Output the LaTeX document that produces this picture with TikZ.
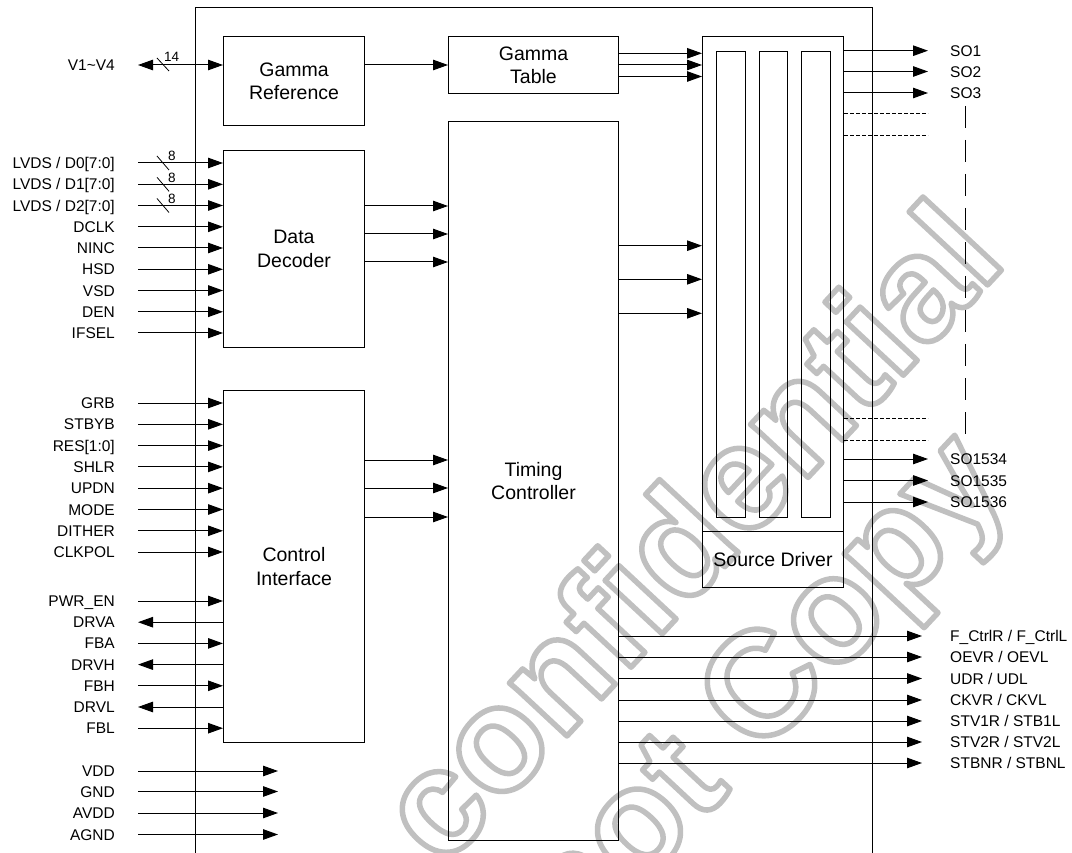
\documentclass[tikz,border=0pt]{standalone}
\usepackage{fontspec}
\setmainfont{Liberation Sans}
\usetikzlibrary{arrows.meta}
\definecolor{wmgray}{RGB}{192,192,192}
\newcommand{\blkfont}{\fontsize{19.5}{23.4}\selectfont}
\newcommand{\pinfont}{\fontsize{15.5}{18}\selectfont}
\newcommand{\busfont}{\fontsize{13.5}{15}\selectfont}
\newcommand{\wmfont}{\bfseries\fontsize{148}{150}\selectfont}
\newcommand{\wmon}{\special{pdf:literal direct 1 Tr 5.5 w 1 j 0.753 0.753 0.753 RG}}
\begin{document}
\begin{tikzpicture}[x=1pt,y=-1pt,
  ln/.style={line width=1pt},
  blk/.style={draw, line width=1pt, inner sep=0pt, align=center, font=\blkfont, anchor=north west},
  colbox/.style={draw, line width=1pt, inner sep=0pt, anchor=north west},
  lab/.style={font=\pinfont, inner sep=0pt, text height=11.1pt, text depth=0pt, anchor=east},
  rlab/.style={lab, anchor=west},
  bus/.style={font=\busfont, inner sep=0pt, anchor=base west},
  arr/.style={line width=1pt, -{Triangle[length=15pt,width=10.5pt]}},
  ain/.style={arr},
  aout/.style={line width=1pt, {Triangle[length=15pt,width=10.5pt]}-},
  darr/.style={line width=1pt, {Triangle[length=15pt,width=10.5pt]}-{Triangle[length=15pt,width=10.5pt]}},
  wm/.style={font=\wmfont, text=wmgray, inner sep=0pt, anchor=base west, rotate=47}
]
\useasboundingbox (0,0) rectangle (1072,853);

% watermark
\begin{scope}
\clip (0,0) rectangle (1072,853);
\node[wm] (wm1) at (442,870) {\wmon confidential};
\node[wm] (wm2) at (575,957) {\wmon not Copy};
\end{scope}

% outer frame
\draw[ln] (195,860) -- (195,8) -- (872,8) -- (872,860);

% blocks
\node[blk, minimum width=141pt, minimum height=89pt] (gref) at (223,36) {Gamma\\Reference};
\node[blk, minimum width=170pt, minimum height=57pt] (gtab) at (448,36) {Gamma\\Table};
\node[blk, minimum width=141pt, minimum height=197pt] (dd) at (223,150) {Data\\Decoder};
\node[blk, minimum width=141pt, minimum height=352pt] (ci) at (223,390) {Control\\Interface};
\node[blk, minimum width=170pt, minimum height=719pt] (tc) at (448,121) {Timing\\Controller};
\node[blk, minimum width=141pt, minimum height=551pt] (sd) at (702,36) {};
\node[blk, minimum width=141pt, minimum height=56pt] (sdl) at (702,531) {Source Driver};
\node[colbox, minimum width=29pt, minimum height=466pt] (col1) at (716,51) {};
\node[colbox, minimum width=28pt, minimum height=466pt] (col2) at (759,51) {};
\node[colbox, minimum width=29pt, minimum height=466pt] (col3) at (801,51) {};

% V1~V4
\node[lab] (v14) at (115,65) {V1\textasciitilde V4};
\draw[darr] ([xshift=23pt]v14.east) -- (gref.west |- v14.east);
\coordinate (s14a) at (157,58);
\coordinate (s14b) at (169,71);
\draw[line width=0.8pt] (s14a) -- (s14b);
\node[bus] (b14) at (164,62) {14};

% gamma reference -> gamma table
\draw[arr] (gref.east |- v14.east) -- (gtab.west |- v14.east);

% gamma table -> source driver
\foreach \y [count=\i] in {53.3,65,76.5}{
  \coordinate (gt\i) at (0,\y);
  \draw[arr] (gtab.east |- gt\i) -- (sd.west |- gt\i);
}

% data decoder inputs
\foreach \t/\y [count=\i] in {{LVDS / D0[7:0]}/163,{LVDS / D1[7:0]}/184.3,{LVDS / D2[7:0]}/205.5,DCLK/226.8,NINC/248,HSD/269.3,VSD/290.5,DEN/311.8,IFSEL/333}{
  \node[lab] (dl\i) at (115,\y) {\t};
  \draw[arr] ([xshift=23pt]dl\i.east) -- (dd.west |- dl\i.east);
}
\foreach \i in {1,2,3}{
  \draw[line width=0.8pt] ([xshift=42pt,yshift=7pt]dl\i.east) -- ([xshift=54pt,yshift=-7pt]dl\i.east);
  \node[bus] (b8\i) at ([xshift=53pt,yshift=2pt]dl\i.east) {8};
}

% control interface inputs / outputs
\foreach \t/\y/\d [count=\i] in {GRB/403/in,STBYB/424.3/in,{RES[1:0]}/445.6/in,SHLR/466.9/in,UPDN/488.2/in,MODE/509.5/in,DITHER/530.8/in,CLKPOL/552/in,PWR\_EN/601/in,DRVA/622.2/out,FBA/643.4/in,DRVH/664.6/out,FBH/685.8/in,DRVL/707/out,FBL/728.2/in}{
  \node[lab] (cl\i) at (115,\y) {\t};
  \draw[a\d] ([xshift=23pt]cl\i.east) -- (ci.west |- cl\i.east);
}

% power pins
\foreach \t/\y [count=\i] in {VDD/771,GND/791.5,AVDD/813,AGND/834.5}{
  \node[lab] (pl\i) at (115,\y) {\t};
  \coordinate (pe\i) at (278,\y);
  \draw[arr] ([xshift=23pt]pl\i.east) -- (pe\i);
}

% data decoder -> timing controller
\foreach \y [count=\i] in {206,234,262}{
  \coordinate (dt\i) at (0,\y);
  \draw[arr] (dd.east |- dt\i) -- (tc.west |- dt\i);
}
% control interface -> timing controller
\foreach \y [count=\i] in {460,488,517}{
  \coordinate (ct\i) at (0,\y);
  \draw[arr] (ci.east |- ct\i) -- (tc.west |- ct\i);
}
% timing controller -> source driver
\foreach \y [count=\i] in {245.7,279.3,313.3}{
  \coordinate (ts\i) at (0,\y);
  \draw[arr] (tc.east |- ts\i) -- (sd.west |- ts\i);
}

% source outputs
\foreach \t/\y [count=\i] in {SO1/50.7,SO2/71.5,SO3/93,SO1534/459,SO1535/480.5,SO1536/502}{
  \node[rlab] (so\i) at (950,\y) {\t};
  \draw[arr] (sd.east |- so\i.west) -- ([xshift=-22pt]so\i.west);
}
\foreach \y [count=\i] in {113,135,418,440}{
  \coordinate (dsh\i) at (928,\y);
  \draw[line width=0.8pt, dash pattern=on 4pt off 2pt] (sd.east |- dsh\i) -- (dsh\i);
}
\coordinate (vd1) at (965,106);
\coordinate (vd2) at (965,434);
\draw[line width=1pt, dash pattern=on 22pt off 12pt] (vd1) -- (vd2);

% timing controller outputs
\foreach \t/\y [count=\i] in {{F\_CtrlR / F\_CtrlL}/636,{OEVR / OEVL}/657,{UDR / UDL}/678.5,{CKVR / CKVL}/700,{STV1R / STB1L}/721,{STV2R / STV2L}/742,{STBNR / STBNL}/763}{
  \node[rlab] (tr\i) at (950,\y) {\t};
  \draw[arr] (tc.east |- tr\i.west) -- ([xshift=-28pt]tr\i.west);
}
\end{tikzpicture}
\end{document}
